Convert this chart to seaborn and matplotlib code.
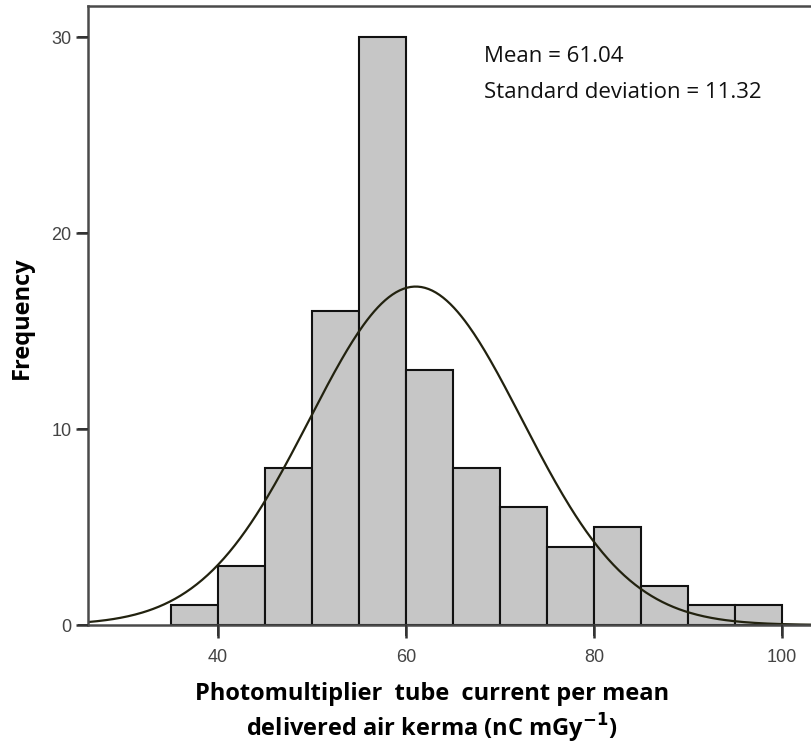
import numpy as np
import pandas as pd
import matplotlib
matplotlib.use("Agg")
import matplotlib.pyplot as plt
from matplotlib.patches import Rectangle
import seaborn as sns

# Data
bin_edges = [35, 40, 45, 50, 55, 60, 65, 70, 75, 80, 85, 90, 95, 100]
counts = [1, 3, 8, 16, 30, 13, 8, 6, 4, 5, 2, 1, 1]
mean_val = 61.04
sd_val = 11.32
x_ticks = [40, 60, 80, 100]
y_ticks = [0, 10, 20, 30]

sns.set_theme(style="ticks")
plt.rcParams['font.family'] = ['Liberation Sans', 'DejaVu Sans']
plt.rcParams.update({
    "axes.edgecolor": "#4a4a4a", "axes.linewidth": 1.8,
    "xtick.major.size": 9, "ytick.major.size": 9,
    "xtick.major.width": 1.8, "ytick.major.width": 1.8,
    "xtick.color": "#333333", "ytick.color": "#333333",
    "xtick.labelcolor": "#444444", "ytick.labelcolor": "#444444",
    "xtick.labelsize": 13, "ytick.labelsize": 13,
    "xtick.major.pad": 8, "ytick.major.pad": 3,
})

fig = plt.figure(figsize=(8.11, 7.46), dpi=100)
ax = fig.add_axes([88/811, 1-625/746, 1-88/811, (625-5.7)/746])

centers = [(a + b) / 2 for a, b in zip(bin_edges[:-1], bin_edges[1:])]
df = pd.DataFrame({"x": centers, "w": counts})
sns.histplot(data=df, x="x", weights="w", bins=bin_edges, ax=ax,
             color="#c6c6c6", edgecolor="#111111", linewidth=1.5, alpha=1.0)

# Fitted normal curve
n_total = sum(counts)
bw = bin_edges[1] - bin_edges[0]
xs = np.linspace(26.17, 103.1, 400)
ys = n_total * bw / (sd_val * np.sqrt(2 * np.pi)) * np.exp(-0.5 * ((xs - mean_val) / sd_val) ** 2)
sns.lineplot(x=xs, y=ys, ax=ax, color="#22220f", linewidth=1.6)

ax.set_xlim(26.17, 103.1)
ax.set_ylim(0, 31.6)
ax.set_xticks(x_ticks)
ax.set_yticks(y_ticks)
ax.set_xlabel("")
ax.set_ylabel("")
ax.spines["right"].set_visible(False)

# tick marks also drawn as small filled patches just outside the frame
tick_w_x = 2.5 / 9.4     # about 2.5 px in x data units
tick_h_y = 2.5 / 19.6    # about 2.5 px in y data units
for v in x_ticks:
    ax.add_patch(Rectangle((v - tick_w_x / 2, -0.017), tick_w_x, 0.017,
                           transform=ax.get_xaxis_transform(), clip_on=False,
                           facecolor="#333333", edgecolor="none", zorder=6))
for v in y_ticks:
    ax.add_patch(Rectangle((-0.0135, v - tick_h_y / 2), 0.0135, tick_h_y,
                           transform=ax.get_yaxis_transform(), clip_on=False,
                           facecolor="#333333", edgecolor="none", zorder=6))

fig.text(484/811, 1-57/746, "Mean = 61.04", fontsize=16,
         family=["Open Sans", "DejaVu Sans"], color="#111111", ha="left", va="center")
fig.text(484/811, 1-93/746, "Standard deviation = 11.32", fontsize=16,
         family=["Open Sans", "DejaVu Sans"], color="#111111", ha="left", va="center")

fig.text(432/811, 1-694/746, "Photomultiplier  tube  current per mean",
         fontsize=17, fontweight="bold", family=["Open Sans", "DejaVu Sans"],
         color="black", ha="center", va="center")
fig.text(432/811, 1-728/746, r"delivered air kerma (nC mGy$^{\mathbf{-1}}$)",
         fontsize=17, fontweight="bold", family=["Open Sans", "DejaVu Sans"],
         color="black", ha="center", va="center")
fig.text(22/811, 1-318/746, "Frequency", rotation=90, fontsize=17,
         fontweight="bold", family=["Open Sans", "DejaVu Sans"],
         color="black", ha="center", va="center")

fig.savefig("out.png", dpi=100)
